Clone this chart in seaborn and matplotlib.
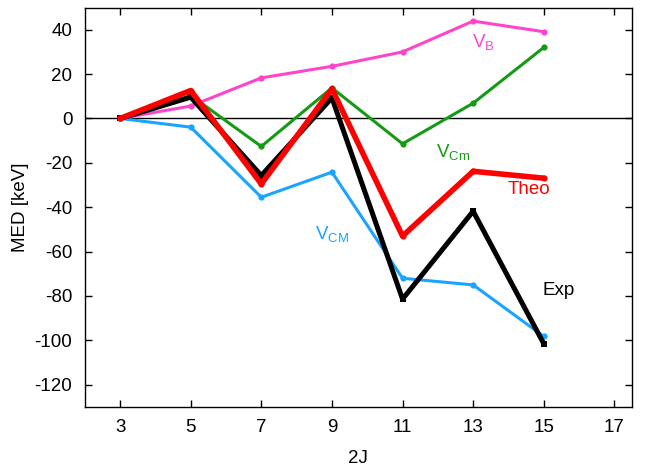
import matplotlib
matplotlib.use("Agg")
import matplotlib.pyplot as plt
import seaborn as sns
import pandas as pd

two_j = [3, 5, 7, 9, 11, 13, 15]
v_b = [0, 5.6, 18.3, 23.5, 30.0, 43.9, 39.1]
v_cm_small = [0, 10.4, -12.6, 13.8, -11.4, 6.9, 32.0]
theo = [0, 12.6, -29.5, 13.4, -53.0, -23.8, -26.9]
exp = [0, 9.6, -25.7, 9.3, -81.4, -41.8, -101.5]
v_cm = [0, -3.9, -35.5, -24.2, -72.0, -75.0, -98.2]

x_ticks = [3, 5, 7, 9, 11, 13, 15, 17]
y_ticks = [-120, -100, -80, -60, -40, -20, 0, 20, 40]

sns.set_theme(style="ticks")
plt.rcParams['font.family'] = ['Liberation Sans', 'DejaVu Sans']
plt.rcParams['mathtext.fontset'] = 'custom'
plt.rcParams['mathtext.rm'] = 'Liberation Sans'
plt.rcParams['mathtext.it'] = 'Liberation Sans'
plt.rcParams['axes.unicode_minus'] = False
plt.rcParams['text.color'] = 'black'
plt.rcParams['axes.labelcolor'] = 'black'
plt.rcParams['xtick.color'] = 'black'
plt.rcParams['ytick.color'] = 'black'

fig = plt.figure(figsize=(6.57, 4.71), dpi=100)
ax = fig.add_axes([0.129, 0.136, 0.833, 0.848])

ax.axhline(0, color='black', lw=1.0, zorder=1)

series = [
    ("VB", v_b, "#ff44cc", 2.2, 'o', 4.5),
    ("VCm", v_cm_small, "#159a15", 2.2, 'o', 4.5),
    ("VCM", v_cm, "#1aa3ff", 2.2, 'o', 4.5),
    ("Exp", exp, "black", 3.6, 's', 4.5),
    ("Theo", theo, "#ff0000", 4.0, 'o', 4.5),
]
for name, vals, col, lw, mk, ms in series:
    df = pd.DataFrame({"2J": two_j, "MED": vals})
    sns.lineplot(data=df, x="2J", y="MED", ax=ax, color=col, lw=lw,
                 marker=mk, markersize=ms, markeredgewidth=0, zorder=3)

fs = 13.5
ax.text(12.96, 34.5, r"V$_{\mathrm{B}}$", color="#ff44cc", fontsize=fs, va='center', ha='left')
ax.text(11.95, -15.0, r"V$_{\mathrm{Cm}}$", color="#159a15", fontsize=fs, va='center', ha='left')
ax.text(13.98, -32.0, "Theo", color="#ff0000", fontsize=fs, va='center', ha='left')
ax.text(8.52, -52.0, r"V$_{\mathrm{CM}}$", color="#1aa3ff", fontsize=fs, va='center', ha='left')
ax.text(14.97, -77.4, "Exp", color="black", fontsize=fs, va='center', ha='left')

ax.set_xlim(2, 17.5)
ax.set_ylim(-130, 50)
ax.set_xticks(x_ticks)
ax.set_yticks(y_ticks)
ax.tick_params(direction='in', top=True, right=True, labelsize=fs, length=5, width=1, color='black', pad=9)
for s in ax.spines.values():
    s.set_linewidth(1.0)
    s.set_color('black')
ax.set_xlabel("2J", fontsize=fs, labelpad=10)
ax.set_ylabel("MED [keV]", fontsize=fs, labelpad=4)

fig.savefig("out.png", dpi=100)
